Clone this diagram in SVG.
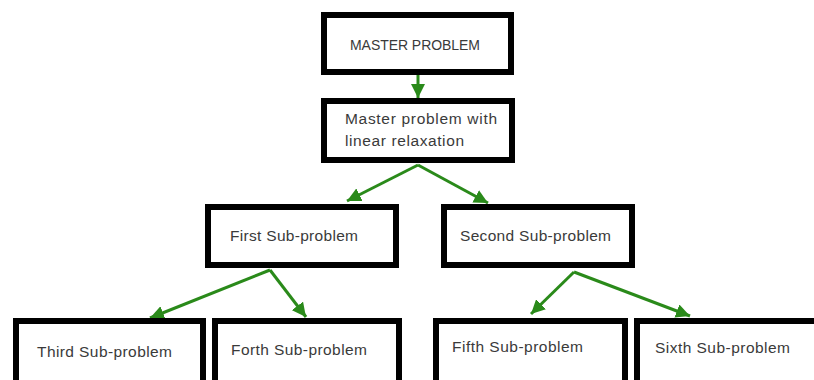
<svg xmlns="http://www.w3.org/2000/svg" width="814" height="380" viewBox="0 0 814 380">
<style>
.box{fill:#fff;stroke:#000;stroke-width:6}
.t{font-family:"Liberation Sans",Arial,sans-serif;font-size:15.5px;fill:#3a3a3a}
.m{font-size:14px}
.c{stroke:#2a8a1a;stroke-width:3;fill:none}
</style>
<defs>
<marker id="ah" markerUnits="userSpaceOnUse" markerWidth="16" markerHeight="14" refX="14" refY="7" orient="auto">
<path d="M0,0 L14,7 L0,14 Z" fill="#2a8a1a"/>
</marker>
</defs>
<rect width="814" height="380" fill="#fff"/>
<g id="connectors">
<line class="c" x1="418" y1="75" x2="418" y2="98" marker-end="url(#ah)"/>
<line class="c" x1="418" y1="165" x2="347" y2="201" marker-end="url(#ah)"/>
<line class="c" x1="418" y1="165" x2="488" y2="203" marker-end="url(#ah)"/>
<line class="c" x1="270" y1="270" x2="150" y2="318" marker-end="url(#ah)"/>
<line class="c" x1="270" y1="270" x2="306" y2="317" marker-end="url(#ah)"/>
<line class="c" x1="574" y1="272" x2="531" y2="314" marker-end="url(#ah)"/>
<line class="c" x1="574" y1="272" x2="690" y2="316" marker-end="url(#ah)"/>
</g>
<g id="n1"><rect class="box" x="324" y="15" width="187" height="57"/><text class="t m" x="350" y="50" textLength="130">MASTER PROBLEM</text></g>
<g id="n2"><rect class="box" x="324" y="101" width="188" height="59"/><text class="t" x="345" y="124" textLength="152">Master problem with</text><text class="t" x="345" y="146" textLength="119">linear relaxation</text></g>
<g id="n3"><rect class="box" x="208" y="207" width="188" height="58"/><text class="t" x="230" y="241" textLength="128">First Sub-problem</text></g>
<g id="n4"><rect class="box" x="444" y="207" width="188" height="58"/><text class="t" x="460" y="241" textLength="151">Second Sub-problem</text></g>
<g id="n5"><rect class="box" x="16" y="321" width="187" height="80"/><text class="t" x="37" y="357" textLength="135">Third Sub-problem</text></g>
<g id="n6"><rect class="box" x="215" y="321" width="184" height="80"/><text class="t" x="231" y="355" textLength="136">Forth Sub-problem</text></g>
<g id="n7"><rect class="box" x="436" y="321" width="189" height="80"/><text class="t" x="452" y="352" textLength="131">Fifth Sub-problem</text></g>
<g id="n8"><rect class="box" x="637" y="321" width="200" height="80"/><text class="t" x="655" y="353" textLength="135">Sixth Sub-problem</text></g>
</svg>
